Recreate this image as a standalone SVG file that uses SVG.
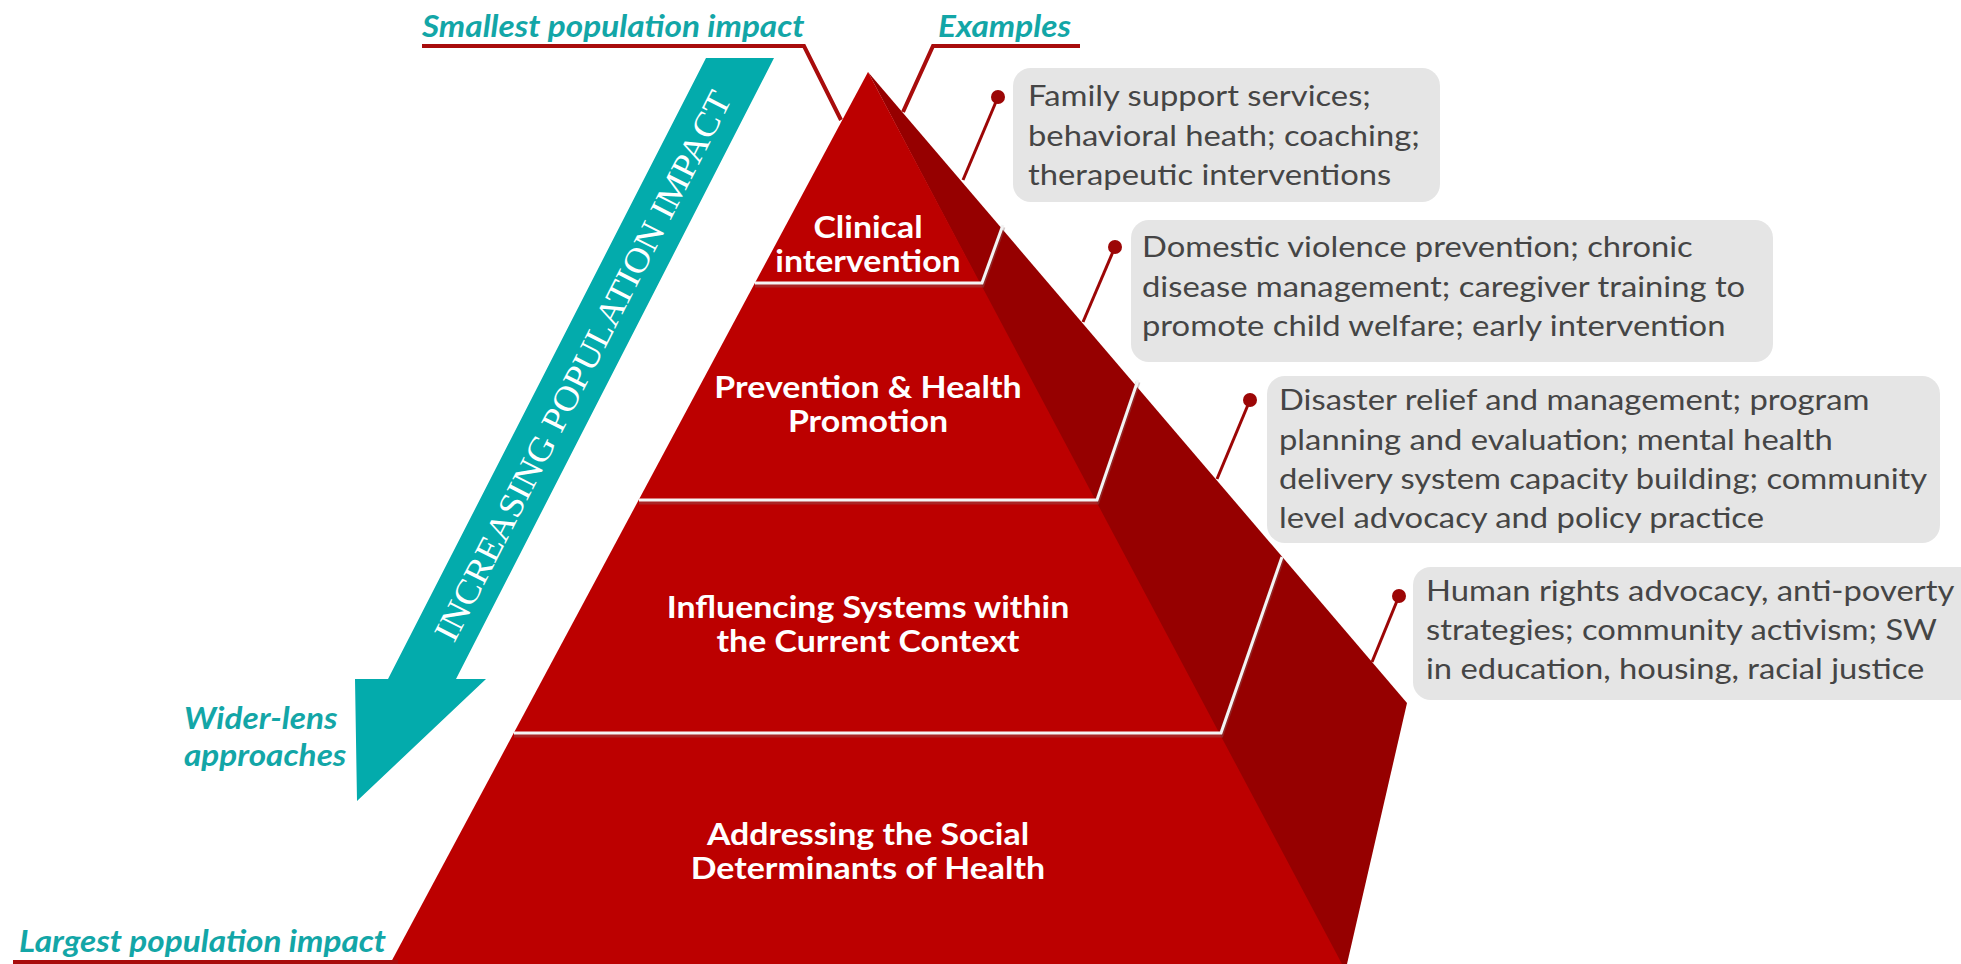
<svg xmlns="http://www.w3.org/2000/svg" width="1961" height="964" viewBox="0 0 1961 964">
<style>
.title{font-family:Lato,"Liberation Sans",sans-serif;font-weight:bold;font-style:italic;font-size:29.5px;fill:#13a6a7}
.tier{font-family:Lato,"Liberation Sans",sans-serif;font-weight:bold;font-size:30px;fill:#ffffff;text-anchor:middle}
.ex{font-family:Lato,"Liberation Sans",sans-serif;font-size:29px;fill:#454545}
.box{fill:#e5e5e5}
.lead{stroke:#9c0606;stroke-width:3;fill:none}
.under{stroke:#a80c0c;stroke-width:4;fill:none}
.dot{fill:#9c0606}
.step{stroke:#f4f4f4;stroke-width:3;fill:none}
.stepsh{stroke:#8a6a6a;stroke-width:5;fill:none;opacity:0.35}
</style>
<rect width="1961" height="964" fill="#ffffff"/>

<g id="pyramid">
  <polygon points="868,72 1407,703 1347,964 1338,964" fill="#960000"/>
  <polygon points="868,72 390,964 1342,964" fill="#bc0000"/>
  <polyline class="stepsh" points="755,285 982,285 1003,227"/>
  <polyline class="step" points="755,283 982,283 1003,225"/>
  <polyline class="stepsh" points="639,502 1097,502 1138,382"/>
  <polyline class="step" points="639,500 1097,500 1138,380"/>
  <polyline class="stepsh" points="514,735 1221,735 1282,559"/>
  <polyline class="step" points="514,733 1221,733 1282,557"/>
</g>

<g id="tier-clinical">
  <text class="tier" transform="matrix(1.13 0 0 1 868 238)">Clinical</text>
  <text class="tier" transform="matrix(1.13 0 0 1 868 272)">intervention</text>
</g>
<g id="tier-prevention">
  <text class="tier" transform="matrix(1.13 0 0 1 868 398)">Prevention &amp; Health</text>
  <text class="tier" transform="matrix(1.13 0 0 1 868 432)">Promotion</text>
</g>
<g id="tier-systems">
  <text class="tier" transform="matrix(1.13 0 0 1 868 618)">Influencing Systems within</text>
  <text class="tier" transform="matrix(1.13 0 0 1 868 652)">the Current Context</text>
</g>
<g id="tier-social">
  <text class="tier" transform="matrix(1.13 0 0 1 868 845)">Addressing the Social</text>
  <text class="tier" transform="matrix(1.13 0 0 1 868 879)">Determinants of Health</text>
</g>

<g id="arrow">
  <polygon points="706,58 774,58 456,679 486,679 357,801 355,679 388,679" fill="#03abac"/>
  <text transform="translate(583,366) rotate(-62.93)" text-anchor="middle" dominant-baseline="central" font-family="'Liberation Serif',serif" font-size="35" fill="#ffffff" textLength="612" lengthAdjust="spacingAndGlyphs">INCREASING POPULATION IMPACT</text>
</g>

<g id="label-smallest">
  <text class="title" transform="matrix(1.13 0 0 1 422 37)">Smallest population impact</text>
</g>
<g id="label-examples">
  <text class="title" transform="matrix(1.13 0 0 1 938 37)">Examples</text>
</g>
<g id="label-wider">
  <text class="title" font-size="29" transform="matrix(1.13 0 0 1 184 729)">Wider-lens</text>
  <text class="title" font-size="29" transform="matrix(1.13 0 0 1 184 766)">approaches</text>
</g>
<g id="label-largest">
  <text class="title" transform="matrix(1.13 0 0 1 19 952)">Largest population impact</text>
</g>

<g id="example-1">
  <rect class="box" x="1013" y="68" width="427" height="134" rx="18"/>
  <text class="ex" transform="matrix(1.13 0 0 1 1028 106)">Family support services;</text>
  <text class="ex" transform="matrix(1.13 0 0 1 1028 146)">behavioral heath; coaching;</text>
  <text class="ex" transform="matrix(1.13 0 0 1 1028 185)">therapeutic interventions</text>
</g>
<g id="example-2">
  <rect class="box" x="1131" y="220" width="642" height="142" rx="18"/>
  <text class="ex" transform="matrix(1.13 0 0 1 1142 257)">Domestic violence prevention; chronic</text>
  <text class="ex" transform="matrix(1.13 0 0 1 1142 297)">disease management; caregiver training to</text>
  <text class="ex" transform="matrix(1.13 0 0 1 1142 336)">promote child welfare; early intervention</text>
</g>
<g id="example-3">
  <rect class="box" x="1267" y="376" width="673" height="167" rx="18"/>
  <text class="ex" transform="matrix(1.13 0 0 1 1279 410)">Disaster relief and management; program</text>
  <text class="ex" transform="matrix(1.13 0 0 1 1279 450)">planning and evaluation; mental health</text>
  <text class="ex" transform="matrix(1.13 0 0 1 1279 489)">delivery system capacity building; community</text>
  <text class="ex" transform="matrix(1.13 0 0 1 1279 528)">level advocacy and policy practice</text>
</g>
<g id="example-4">
  <rect class="box" x="1413" y="567" width="580" height="133" rx="18"/>
  <text class="ex" transform="matrix(1.13 0 0 1 1426 601)">Human rights advocacy, anti-poverty</text>
  <text class="ex" transform="matrix(1.13 0 0 1 1426 640)">strategies; community activism; SW</text>
  <text class="ex" transform="matrix(1.13 0 0 1 1426 679)">in education, housing, racial justice</text>
</g>

<g id="connectors">
  <polyline class="under" points="422,46 804,46 841,120"/>
  <polyline class="under" points="1080,46 933,46 903,112"/>
  <line class="under" x1="13" y1="962" x2="398" y2="962"/>
  <line class="lead" x1="998" y1="97" x2="963" y2="180"/>
  <circle class="dot" cx="998" cy="97" r="7"/>
  <line class="lead" x1="1115" y1="247" x2="1083" y2="322"/>
  <circle class="dot" cx="1115" cy="247" r="7"/>
  <line class="lead" x1="1250" y1="400" x2="1217" y2="479"/>
  <circle class="dot" cx="1250" cy="400" r="7"/>
  <line class="lead" x1="1399" y1="596" x2="1372" y2="662"/>
  <circle class="dot" cx="1399" cy="596" r="7"/>
</g>
</svg>
